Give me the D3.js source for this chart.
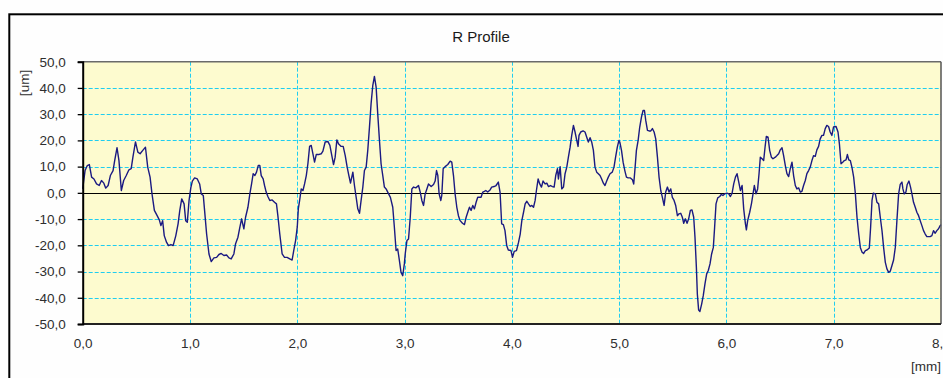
<!DOCTYPE html>
<html>
<head>
<meta charset="utf-8">
<script src="https://cdn.jsdelivr.net/npm/d3@7"></script>
<style>
  body { margin: 0; background: #fff; overflow: hidden; }
  text { font-family: "Liberation Sans", Arial, sans-serif; }
</style>
</head>
<body>
<div id="chart"></div>
<script>
// profile position [mm]
const positions = [
  0.000, 0.022, 0.043, 0.062, 0.083, 0.105, 0.129, 0.154, 0.175, 0.197, 0.215, 0.237, 0.258, 0.283, 0.298, 0.320,
  0.338, 0.360, 0.382, 0.406, 0.431, 0.452, 0.468, 0.492, 0.514, 0.535, 0.560, 0.585, 0.606, 0.628, 0.646, 0.668,
  0.689, 0.714, 0.729, 0.745, 0.760, 0.782, 0.800, 0.822, 0.843, 0.868, 0.889, 0.905, 0.923, 0.945, 0.960, 0.975,
  0.991, 1.008, 1.022, 1.043, 1.068, 1.090, 1.105, 1.124, 1.136, 1.155, 1.177, 1.198, 1.223, 1.248, 1.270, 1.291,
  1.316, 1.341, 1.363, 1.384, 1.409, 1.425, 1.447, 1.465, 1.481, 1.502, 1.518, 1.540, 1.558, 1.574, 1.589, 1.605,
  1.620, 1.636, 1.651, 1.664, 1.682, 1.695, 1.710, 1.726, 1.744, 1.766, 1.788, 1.806, 1.819, 1.837, 1.859, 1.881,
  1.905, 1.930, 1.952, 1.967, 1.985, 2.000, 2.010, 2.022, 2.037, 2.053, 2.068, 2.084, 2.099, 2.115, 2.130, 2.146,
  2.161, 2.177, 2.198, 2.223, 2.239, 2.260, 2.285, 2.304, 2.322, 2.338, 2.353, 2.369, 2.384, 2.409, 2.428, 2.447,
  2.465, 2.481, 2.496, 2.518, 2.533, 2.549, 2.564, 2.580, 2.595, 2.611, 2.626, 2.642, 2.657, 2.673, 2.688, 2.704,
  2.719, 2.735, 2.750, 2.766, 2.781, 2.797, 2.812, 2.828, 2.843, 2.868, 2.890, 2.905, 2.921, 2.936, 2.952, 2.967,
  2.983, 2.998, 3.006, 3.022, 3.037, 3.053, 3.068, 3.084, 3.105, 3.130, 3.146, 3.161, 3.177, 3.192, 3.208, 3.223,
  3.248, 3.270, 3.285, 3.298, 3.310, 3.322, 3.338, 3.347, 3.360, 3.378, 3.403, 3.425, 3.440, 3.456, 3.471, 3.487,
  3.502, 3.518, 3.540, 3.558, 3.574, 3.589, 3.605, 3.620, 3.636, 3.651, 3.667, 3.682, 3.698, 3.713, 3.729, 3.744,
  3.757, 3.775, 3.797, 3.812, 3.834, 3.853, 3.874, 3.890, 3.905, 3.921, 3.936, 3.952, 3.967, 3.992, 4.006, 4.022,
  4.043, 4.062, 4.078, 4.093, 4.109, 4.124, 4.140, 4.155, 4.171, 4.186, 4.202, 4.217, 4.229, 4.245, 4.260, 4.276,
  4.291, 4.310, 4.326, 4.341, 4.360, 4.378, 4.394, 4.409, 4.425, 4.434, 4.450, 4.465, 4.481, 4.496, 4.512, 4.527,
  4.543, 4.558, 4.574, 4.589, 4.605, 4.617, 4.626, 4.642, 4.664, 4.682, 4.698, 4.713, 4.729, 4.744, 4.760, 4.775,
  4.791, 4.806, 4.822, 4.837, 4.853, 4.868, 4.884, 4.899, 4.915, 4.936, 4.952, 4.967, 4.983, 4.998, 5.006, 5.022,
  5.037, 5.053, 5.068, 5.084, 5.105, 5.124, 5.136, 5.149, 5.161, 5.177, 5.192, 5.208, 5.223, 5.236, 5.248, 5.264,
  5.279, 5.295, 5.310, 5.326, 5.341, 5.357, 5.372, 5.388, 5.403, 5.419, 5.434, 5.450, 5.465, 5.481, 5.496, 5.512,
  5.527, 5.543, 5.558, 5.574, 5.589, 5.602, 5.617, 5.633, 5.648, 5.664, 5.679, 5.695, 5.707, 5.720, 5.729, 5.741,
  5.753, 5.769, 5.784, 5.800, 5.816, 5.831, 5.847, 5.862, 5.878, 5.890, 5.903, 5.919, 5.938, 5.952, 5.967, 5.983,
  6.005, 6.022, 6.037, 6.053, 6.068, 6.084, 6.099, 6.115, 6.130, 6.146, 6.161, 6.177, 6.186, 6.198, 6.217, 6.233,
  6.248, 6.260, 6.276, 6.291, 6.304, 6.316, 6.332, 6.347, 6.360, 6.372, 6.388, 6.403, 6.419, 6.434, 6.456, 6.471,
  6.487, 6.502, 6.518, 6.533, 6.549, 6.564, 6.580, 6.595, 6.611, 6.626, 6.642, 6.657, 6.673, 6.688, 6.704, 6.719,
  6.735, 6.750, 6.766, 6.781, 6.797, 6.812, 6.828, 6.843, 6.859, 6.874, 6.890, 6.905, 6.921, 6.936, 6.952, 6.967,
  6.983, 6.998, 7.022, 7.040, 7.053, 7.068, 7.084, 7.099, 7.115, 7.127, 7.140, 7.155, 7.171, 7.186, 7.202, 7.217,
  7.233, 7.248, 7.264, 7.279, 7.295, 7.310, 7.332, 7.344, 7.357, 7.369, 7.388, 7.403, 7.419, 7.434, 7.450, 7.465,
  7.481, 7.496, 7.512, 7.527, 7.543, 7.558, 7.574, 7.589, 7.605, 7.620, 7.636, 7.645, 7.657, 7.673, 7.685, 7.701,
  7.716, 7.729, 7.744, 7.760, 7.775, 7.791, 7.806, 7.822, 7.837, 7.853, 7.868, 7.884, 7.899, 7.915, 7.930, 7.946,
  7.961, 7.977, 7.992, 8.000
];

// profile height [um]
const heights = [
  1.5, 8.5, 10.4, 10.8, 6.0, 5.3, 3.4, 2.8, 4.7, 3.7, 1.8, 2.8, 6.6, 8.5, 12.3, 17.2,
  12.3, 0.9, 4.7, 6.6, 8.8, 9.2, 13.6, 19.4, 15.5, 14.9, 16.2, 17.4, 9.8, 6.0, -0.4, -6.7,
  -8.3, -10.3, -12.5, -10.6, -16.3, -18.9, -20.1, -19.7, -20.1, -16.3, -11.8, -6.7, -2.3, -4.2, -10.6, -11.2,
  -3.0, 2.0, 4.5, 5.7, 5.3, 3.4, -0.4, -1.0, -6.7, -15.7, -23.3, -26.2, -24.8, -24.6, -23.5, -23.1,
  -23.9, -23.7, -24.8, -25.2, -23.3, -19.4, -16.9, -13.1, -9.9, -13.7, -9.3, -5.5, -0.4, 3.4, 7.3, 6.6,
  7.9, 10.4, 10.4, 6.6, 5.3, 2.8, 0.3, -1.4, -2.9, -2.7, -3.6, -4.2, -8.7, -15.7, -23.3, -24.6,
  -24.6, -25.2, -25.6, -22.0, -18.0, -13.0, -6.0, -2.9, 1.5, 0.9, 3.4, 6.6, 11.1, 17.7, 18.1, 14.9,
  11.7, 14.6, 14.6, 14.9, 15.9, 19.4, 19.6, 18.1, 14.2, 10.8, 13.6, 20.2, 18.7, 17.7, 17.7, 14.2,
  9.8, 6.6, 3.7, 7.9, 2.8, -1.7, -6.1, -7.8, -2.9, 2.2, 8.5, 9.8, 16.2, 25.1, 34.0, 41.0,
  44.4, 40.3, 30.1, 20.0, 11.1, 6.6, 2.2, 1.5, 0.3, -1.7, -5.5, -13.1, -22.0, -21.4, -25.8, -30.3,
  -31.6, -27.1, -23.3, -18.2, -17.6, -9.3, 1.5, 2.2, 1.9, 2.8, 0.3, -2.9, -4.8, -0.4, 1.5, 3.4,
  2.4, 3.2, 4.5, 8.5, 6.6, -0.4, -2.9, -1.0, 9.2, 10.0, 10.8, 12.1, 11.7, 6.6, -0.4, -5.5,
  -8.7, -10.6, -11.6, -12.1, -9.3, -7.4, -5.5, -6.7, -4.8, -6.1, -3.6, -1.7, -1.7, -1.7, 0.3, 0.6,
  0.9, 0.3, 1.1, 2.2, 2.4, 2.8, 4.1, 0.3, -11.8, -12.1, -14.4, -20.1, -21.8, -22.0, -24.6, -22.3,
  -22.0, -18.9, -15.7, -10.6, -7.4, -4.2, -3.2, -4.2, -5.2, -4.8, -5.5, -2.9, 0.9, 5.3, 3.4, 2.2,
  4.5, 3.4, 3.7, 2.4, 2.8, 2.4, 2.2, 6.6, 9.2, 5.3, 10.0, 1.5, 2.2, 7.3, 9.8, 13.6,
  17.4, 21.9, 25.7, 23.2, 20.0, 17.7, 21.9, 23.2, 23.6, 23.2, 21.2, 19.4, 21.0, 19.4, 16.2, 9.8,
  7.9, 7.3, 6.6, 5.3, 3.7, 2.8, 4.5, 6.0, 7.3, 7.9, 9.8, 13.6, 17.4, 20.0, 19.4, 16.2,
  11.7, 8.5, 6.0, 5.7, 5.7, 5.0, 3.4, 9.8, 16.2, 20.0, 25.1, 28.9, 31.4, 31.4, 27.6, 23.8,
  23.6, 23.6, 24.5, 23.2, 20.6, 13.6, 6.0, 0.9, -1.7, -4.8, 0.3, 2.2, 0.3, 1.5, -1.7, -2.9,
  -4.8, -8.7, -8.0, -7.8, -9.3, -11.6, -9.9, -11.6, -9.9, -6.7, -6.5, -9.3, -16.9, -28.4, -38.6, -44.7,
  -45.2, -42.4, -39.2, -34.7, -30.9, -29.6, -27.1, -23.3, -20.8, -13.1, -4.2, -1.9, -1.4, -0.6, -1.0, -0.4,
  -0.1, -0.4, -1.4, -0.1, 3.4, 6.0, 7.3, 4.1, 0.9, 2.8, -6.1, -11.8, -14.1, -10.6, -7.4, -4.2,
  -0.4, 2.8, -0.4, 1.5, 7.3, 13.6, 13.0, 12.3, 17.4, 21.5, 21.2, 16.2, 13.6, 13.0, 13.6, 14.2,
  14.9, 16.4, 17.2, 14.2, 10.4, 7.3, 6.2, 9.2, 11.7, 6.6, 2.8, 1.5, 1.9, 0.3, 0.6, 2.8,
  4.7, 7.3, 8.5, 9.8, 12.3, 14.2, 13.9, 16.4, 17.7, 20.6, 21.9, 21.9, 24.5, 25.7, 25.3, 23.2,
  21.9, 25.1, 25.3, 23.2, 18.7, 11.1, 11.7, 12.3, 12.6, 14.6, 12.6, 12.3, 9.5, 6.0, -0.4, -9.3,
  -15.7, -20.8, -22.6, -23.1, -22.0, -21.8, -21.0, -13.1, -2.9, -0.1, -0.4, -3.6, -4.2, -9.3, -14.4, -20.8,
  -26.5, -29.0, -30.3, -29.9, -27.7, -25.6, -20.8, -10.6, -0.4, 3.2, 4.1, 1.5, -0.4, 0.3, 3.2, 4.5,
  2.2, -0.4, -3.6, -5.5, -7.4, -8.7, -10.6, -12.5, -14.4, -15.7, -16.7, -16.7, -16.7, -16.3, -14.4, -15.4,
  -14.4, -13.7, -12.5, -12.1
];

const xTicks = [0, 1, 2, 3, 4, 5, 6, 7, 8];
const yTicks = [-50, -40, -30, -20, -10, 0, 10, 20, 30, 40, 50];

const chartTitle = 'R Profile';
const xLabel = '[mm]';
const yLabel = '[um]';

const width = 943;
const height = 378;
const plot = { left: 82.7, right: 941, top: 61.7, bottom: 324 };

const fmt = v => d3.format('.1f')(v).replace('.', ',').replace('−', '-');

const x = d3.scaleLinear().domain([0, 8]).range([plot.left, plot.right]);
const y = d3.scaleLinear().domain([-50, 50]).range([plot.bottom, plot.top]);

const svg = d3.select('#chart')
  .append('svg')
  .attr('width', width)
  .attr('height', height);

svg.append('rect')
  .attr('width', width)
  .attr('height', height)
  .attr('fill', '#fefefe');

// outer frame
svg.append('rect')
  .attr('x', 9.3)
  .attr('y', 14.3)
  .attr('width', width + 20)
  .attr('height', height + 20)
  .attr('fill', 'none')
  .attr('stroke', '#000')
  .attr('stroke-width', 2);

svg.append('text')
  .attr('x', 481)
  .attr('y', 42)
  .attr('text-anchor', 'middle')
  .attr('font-size', 15)
  .attr('fill', '#1a1a1a')
  .text(chartTitle);

// plot background
svg.append('rect')
  .attr('x', plot.left)
  .attr('y', plot.top)
  .attr('width', plot.right - plot.left)
  .attr('height', plot.bottom - plot.top)
  .attr('fill', '#fdfbcf');

// grid
svg.append('g')
  .attr('stroke', '#1fcdf0')
  .attr('stroke-dasharray', '4,2')
  .call(g => g.selectAll('.gy')
    .data(yTicks.filter(d => d !== 0 && Math.abs(d) !== 50))
    .join('line')
    .attr('x1', plot.left)
    .attr('x2', plot.right)
    .attr('y1', d => Math.round(y(d)) + 0.5)
    .attr('y2', d => Math.round(y(d)) + 0.5))
  .call(g => g.selectAll('.gx')
    .data(xTicks.filter(d => d !== 0 && d !== 8))
    .join('line')
    .attr('class', 'gx')
    .attr('x1', d => Math.round(x(d)) + 0.5)
    .attr('x2', d => Math.round(x(d)) + 0.5)
    .attr('y1', plot.top)
    .attr('y2', plot.bottom));

// zero line
svg.append('line')
  .attr('x1', plot.left)
  .attr('x2', plot.right)
  .attr('y1', Math.round(y(0)) + 0.5)
  .attr('y2', Math.round(y(0)) + 0.5)
  .attr('stroke', '#000')
  .attr('stroke-width', 1);

// profile
const line = d3.line()
  .x((d, i) => x(positions[i]))
  .y(d => y(d));

svg.append('path')
  .datum(heights)
  .attr('fill', 'none')
  .attr('stroke', '#1b1a82')
  .attr('stroke-width', 1.4)
  .attr('stroke-linejoin', 'round')
  .attr('d', line);

// plot frame
svg.append('line')
  .attr('x1', plot.left).attr('x2', plot.right)
  .attr('y1', plot.top).attr('y2', plot.top)
  .attr('stroke', '#6a6a6a').attr('stroke-width', 1.5);
svg.append('line')
  .attr('x1', plot.right).attr('x2', plot.right)
  .attr('y1', plot.top).attr('y2', plot.bottom)
  .attr('stroke', '#555').attr('stroke-width', 1.5);
svg.append('line')
  .attr('x1', plot.left).attr('x2', plot.right)
  .attr('y1', plot.bottom).attr('y2', plot.bottom)
  .attr('stroke', '#222').attr('stroke-width', 2);

// y axis
const yAxis = d3.axisLeft(y)
  .tickValues(yTicks)
  .tickSize(5)
  .tickPadding(12)
  .tickFormat(fmt);

svg.append('g')
  .attr('transform', `translate(${plot.left},0)`)
  .call(yAxis)
  .call(g => g.select('.domain').attr('stroke', '#000').attr('stroke-width', 2))
  .call(g => g.selectAll('.tick line').attr('stroke', '#000').attr('stroke-width', 1.3))
  .call(g => g.selectAll('.tick text')
    .attr('font-size', 13.5)
    .attr('font-family', '"Liberation Sans", Arial, sans-serif')
    .attr('fill', '#2e2e2e'));

// x axis labels
const xAxis = d3.axisBottom(x)
  .tickValues(xTicks)
  .tickSize(0)
  .tickPadding(14)
  .tickFormat(fmt);

svg.append('g')
  .attr('transform', `translate(0,${plot.bottom})`)
  .call(xAxis)
  .call(g => g.select('.domain').remove())
  .call(g => g.selectAll('.tick text')
    .attr('font-size', 13.5)
    .attr('font-family', '"Liberation Sans", Arial, sans-serif')
    .attr('fill', '#2e2e2e'));

svg.append('text')
  .attr('x', 941)
  .attr('y', 371)
  .attr('text-anchor', 'end')
  .attr('font-size', 13.5)
  .attr('fill', '#2e2e2e')
  .text(xLabel);

svg.append('text')
  .attr('transform', 'translate(29,83) rotate(-90)')
  .attr('text-anchor', 'middle')
  .attr('font-size', 13.5)
  .attr('fill', '#2e2e2e')
  .text(yLabel);
</script>
</body>
</html>
